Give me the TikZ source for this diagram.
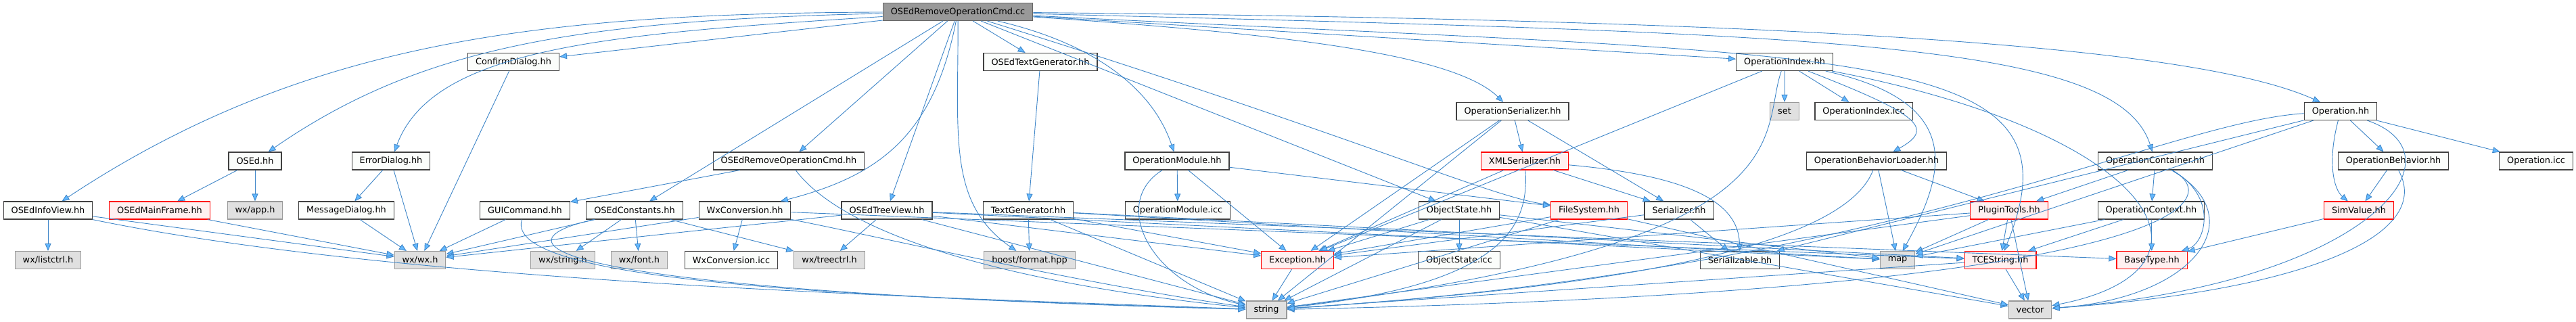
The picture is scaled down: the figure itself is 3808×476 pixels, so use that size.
\documentclass[tikz,border=0pt]{standalone}
\usepackage{fontspec}
\setmainfont{DejaVu Sans}
\usetikzlibrary{arrows.meta}

\definecolor{boxline}{HTML}{404040}
\definecolor{boxfill}{HTML}{FBFDFB}
\definecolor{rootfill}{HTML}{999999}
\definecolor{rootline}{HTML}{666666}
\definecolor{sysfill}{HTML}{E0E0E0}
\definecolor{sysline}{HTML}{999999}
\definecolor{warnfill}{HTML}{FFF0F0}
\definecolor{edgeline}{HTML}{3F86C8}
\definecolor{edgehead}{HTML}{63B8FF}

\begin{document}
\begin{tikzpicture}[x=1pt, y=-1pt, every node/.style={font=\fontsize{12.85}{15}\selectfont}]

    % Styles — doxygen include graph look
    \tikzstyle{file_box} = [draw=boxline, fill=boxfill, line width=1.1pt,
        minimum height=26pt, inner xsep=11.5pt, inner ysep=0pt]
    \tikzstyle{root_box} = [file_box, fill=rootfill, draw=rootline]
    \tikzstyle{sys_box} = [file_box, fill=sysfill, draw=sysline]
    \tikzstyle{warn_box} = [file_box, fill=warnfill, draw=red]
    \tikzstyle{dep} = [draw=edgeline, line width=0.9pt,
        -{Triangle[length=11pt, width=9pt, fill=edgehead]}]

    % Row Y positions (pixels, top = 0)
    \def\rowA{17.5}
    \def\rowB{91.5}
    \def\rowC{164.5}
    \def\rowD{238}
    \def\rowE{311}
    \def\rowF{384.5}
    \def\rowG{458}

    \useasboundingbox (0,0) rectangle (3808,476);

    % Root file
    \node[root_box] (root) at (1416, \rowA) {OSEdRemoveOperationCmd.cc};

    % Row B
    \node[file_box] (confirm) at (759, \rowB) {ConfirmDialog.hh};
    \node[file_box] (textgenosed) at (1538, \rowB) {OSEdTextGenerator.hh};
    \node[file_box] (opindex) at (2638, \rowB) {OperationIndex.hh};

    % Row C
    \node[file_box] (opserial) at (2236, \rowC) {OperationSerializer.hh};
    \node[sys_box] (set) at (2638, \rowC) {set};
    \node[file_box] (opindexicc) at (2755, \rowC) {OperationIndex.icc};
    \node[file_box] (operation) at (3460, \rowC) {Operation.hh};

    % Row D
    \node[file_box] (osed) at (377, \rowD) {OSEd.hh};
    \node[file_box] (errdlg) at (578, \rowD) {ErrorDialog.hh};
    \node[file_box] (cmdhh) at (1166, \rowD) {OSEdRemoveOperationCmd.hh};
    \node[file_box] (opmodule) at (1740, \rowD) {OperationModule.hh};
    \node[warn_box] (xmlserial) at (2254, \rowD) {XMLSerializer.hh};
    \node[file_box] (behloader) at (2774, \rowD) {OperationBehaviorLoader.hh};
    \node[file_box] (opcontainer) at (3186, \rowD) {OperationContainer.hh};
    \node[file_box] (opbehavior) at (3538, \rowD) {OperationBehavior.hh};
    \node[file_box] (opicc) at (3749, \rowD) {Operation.icc};

    % Row E
    \node[file_box] (infoview) at (71, \rowE) {OSEdInfoView.hh};
    \node[warn_box] (mainframe) at (236, \rowE) {OSEdMainFrame.hh};
    \node[sys_box] (wxapp) at (377, \rowE) {wx/app.h};
    \node[file_box] (msgdlg) at (512, \rowE) {MessageDialog.hh};
    \node[file_box] (guicmd) at (776, \rowE) {GUICommand.hh};
    \node[file_box] (constants) at (938, \rowE) {OSEdConstants.hh};
    \node[file_box] (wxconv) at (1101, \rowE) {WxConversion.hh};
    \node[file_box] (treeview) at (1311, \rowE) {OSEdTreeView.hh};
    \node[file_box] (textgen) at (1520, \rowE) {TextGenerator.hh};
    \node[file_box] (opmoduleicc) at (1741, \rowE) {OperationModule.icc};
    \node[file_box] (objstate) at (2157, \rowE) {ObjectState.hh};
    \node[warn_box] (filesys) at (2349, \rowE) {FileSystem.hh};
    \node[file_box] (serializer) at (2482, \rowE) {Serializer.hh};
    \node[warn_box] (plugin) at (2970, \rowE) {PluginTools.hh};
    \node[file_box] (opcontext) at (3180, \rowE) {OperationContext.hh};
    \node[warn_box] (simvalue) at (3487, \rowE) {SimValue.hh};

    % Row F
    \node[sys_box] (listctrl) at (71, \rowF) {wx/listctrl.h};
    \node[sys_box] (wxwx) at (621, \rowF) {wx/wx.h};
    \node[sys_box] (wxstring) at (832, \rowF) {wx/string.h};
    \node[sys_box] (wxfont) at (945, \rowF) {wx/font.h};
    \node[file_box] (wxconvicc) at (1081, \rowF) {WxConversion.icc};
    \node[sys_box] (treectrl) at (1226, \rowF) {wx/treectrl.h};
    \node[sys_box] (boostfmt) at (1522, \rowF) {boost/format.hpp};
    \node[warn_box] (exception) at (1918, \rowF) {Exception.hh};
    \node[file_box] (objstateicc) at (2157, \rowF) {ObjectState.icc};
    \node[file_box] (serializable) at (2572, \rowF) {Serializable.hh};
    \node[sys_box] (map) at (2805, \rowF) {map};
    \node[warn_box] (tcestring) at (2957, \rowF) {TCEString.hh};
    \node[warn_box] (basetype) at (3181, \rowF) {BaseType.hh};

    % Row G
    \node[sys_box] (string) at (1872, \rowG) {string};
    \node[sys_box] (vector) at (3001, \rowG) {vector};

    % Includes of the root file
    \draw[dep] (root) .. controls (800,20) and (450,60) .. (infoview);
    \draw[dep] (root) .. controls (850,30) and (620,70) .. (osed);
    \draw[dep] (root) .. controls (900,50) and (640,70) .. (errdlg);
    \draw[dep] (root) -- (confirm);
    \draw[dep] (root) -- (constants);
    \draw[dep] (root) -- (cmdhh);
    \draw[dep] (root) .. controls (1380,200) and (1300,260) .. (wxconv);
    \draw[dep] (root) -- (treeview);
    \draw[dep] (root) .. controls (1417,200) and (1400,300) .. (boostfmt);
    \draw[dep] (root) -- (textgenosed);
    \draw[dep] (root) .. controls (1600,60) and (1700,120) .. (opmodule);
    \draw[dep] (root) -- (objstate);
    \draw[dep] (root) .. controls (1900,50) and (2150,80) .. (opserial);
    \draw[dep] (root) -- (opindex);
    \draw[dep] (root) .. controls (2000,200) and (2200,290) .. (filesys);
    \draw[dep] (root) .. controls (2700,50) and (3130,60) .. (opcontainer);
    \draw[dep] (root) .. controls (2700,30) and (3250,70) .. (operation);
    \draw[dep] (root) .. controls (2750,85) and (3090,60) .. (tcestring);

    % wx side
    \draw[dep] (infoview) -- (listctrl);
    \draw[dep] (infoview) -- (wxwx);
    \draw[dep] (infoview) .. controls (600,420) and (1400,440) .. (string);
    \draw[dep] (osed) -- (mainframe);
    \draw[dep] (osed) -- (wxapp);
    \draw[dep] (mainframe) -- (wxwx);
    \draw[dep] (errdlg) -- (msgdlg);
    \draw[dep] (errdlg) -- (wxwx);
    \draw[dep] (msgdlg) -- (wxwx);
    \draw[dep] (confirm) -- (wxwx);
    \draw[dep] (cmdhh) -- (guicmd);
    \draw[dep] (cmdhh) .. controls (1250,350) and (1500,420) .. (string);
    \draw[dep] (guicmd) -- (wxwx);
    \draw[dep] (guicmd) .. controls (740,420) and (1300,440) .. (string);
    \draw[dep] (constants) -- (wxwx);
    \draw[dep] (constants) -- (wxstring);
    \draw[dep] (constants) -- (wxfont);
    \draw[dep] (constants) -- (treectrl);
    \draw[dep] (constants) .. controls (720,360) and (800,430) .. (string);
    \draw[dep] (wxconv) -- (wxwx);
    \draw[dep] (wxconv) -- (wxconvicc);
    \draw[dep] (wxconv) .. controls (1300,350) and (1600,420) .. (string);
    \draw[dep] (wxconv) -- (tcestring);
    \draw[dep] (treeview) -- (wxwx);
    \draw[dep] (treeview) -- (treectrl);
    \draw[dep] (treeview) -- (string);
    \draw[dep] (treeview) -- (map);
    \draw[dep] (treeview) -- (exception);
    \draw[dep] (treeview) -- (basetype);

    % Generators and modules
    \draw[dep] (textgenosed) -- (textgen);
    \draw[dep] (textgen) -- (boostfmt);
    \draw[dep] (textgen) -- (string);
    \draw[dep] (textgen) -- (exception);
    \draw[dep] (textgen) -- (map);
    \draw[dep] (textgen) -- (tcestring);
    \draw[dep] (opmodule) -- (opmoduleicc);
    \draw[dep] (opmodule) .. controls (1640,300) and (1700,420) .. (string);
    \draw[dep] (opmodule) -- (exception);
    \draw[dep] (opmodule) -- (filesys);

    % Serialization
    \draw[dep] (opserial) -- (xmlserial);
    \draw[dep] (opserial) -- (serializer);
    \draw[dep] (opserial) -- (exception);
    \draw[dep] (opserial) -- (string);
    \draw[dep] (xmlserial) -- (serializer);
    \draw[dep] (xmlserial) .. controls (2500,260) and (2570,300) .. (serializable);
    \draw[dep] (xmlserial) -- (exception);
    \draw[dep] (xmlserial) .. controls (2260,330) and (2230,420) .. (string);
    \draw[dep] (objstate) -- (objstateicc);
    \draw[dep] (objstate) -- (exception);
    \draw[dep] (objstate) -- (string);
    \draw[dep] (objstate) -- (map);
    \draw[dep] (objstate) -- (vector);
    \draw[dep] (filesys) -- (exception);
    \draw[dep] (filesys) -- (string);
    \draw[dep] (filesys) -- (vector);
    \draw[dep] (serializer) -- (serializable);
    \draw[dep] (serializer) -- (exception);

    % Operation index and behaviour
    \draw[dep] (opindex) -- (set);
    \draw[dep] (opindex) -- (opindexicc);
    \draw[dep] (opindex) .. controls (2840,170) and (2860,190) .. (behloader);
    \draw[dep] (opindex) .. controls (2600,200) and (2680,360) .. (string);
    \draw[dep] (opindex) .. controls (2900,150) and (2880,250) .. (map);
    \draw[dep] (opindex) -- (exception);
    \draw[dep] (opindex) .. controls (3200,200) and (3300,400) .. (vector);
    \draw[dep] (behloader) -- (plugin);
    \draw[dep] (behloader) -- (map);
    \draw[dep] (behloader) .. controls (2720,380) and (2300,430) .. (string);
    \draw[dep] (plugin) -- (map);
    \draw[dep] (plugin) -- (tcestring);
    \draw[dep] (plugin) -- (vector);
    \draw[dep] (plugin) -- (exception);
    \draw[dep] (plugin) -- (string);
    \draw[dep] (tcestring) -- (vector);
    \draw[dep] (tcestring) -- (string);
    \draw[dep] (opcontainer) -- (plugin);
    \draw[dep] (opcontainer) -- (opcontext);
    \draw[dep] (opcontainer) .. controls (3280,290) and (3260,360) .. (basetype);
    \draw[dep] (opcontainer) .. controls (3300,300) and (3200,430) .. (string);
    \draw[dep] (opcontainer) .. controls (3330,320) and (3250,440) .. (vector);
    \draw[dep] (opcontext) -- (basetype);
    \draw[dep] (opcontext) -- (tcestring);
    \draw[dep] (opcontext) -- (map);
    \draw[dep] (operation) -- (opbehavior);
    \draw[dep] (operation) .. controls (3440,240) and (3450,280) .. (simvalue);
    \draw[dep] (operation) -- (opicc);
    \draw[dep] (operation) .. controls (3200,180) and (2800,400) .. (string);
    \draw[dep] (operation) .. controls (3650,230) and (3500,420) .. (vector);
    \draw[dep] (operation) -- (serializable);
    \draw[dep] (operation) -- (map);
    \draw[dep] (opbehavior) -- (simvalue);
    \draw[dep] (opbehavior) .. controls (3600,350) and (3400,430) .. (vector);
    \draw[dep] (simvalue) -- (basetype);
    \draw[dep] (exception) -- (string);

\end{tikzpicture}
\end{document}
